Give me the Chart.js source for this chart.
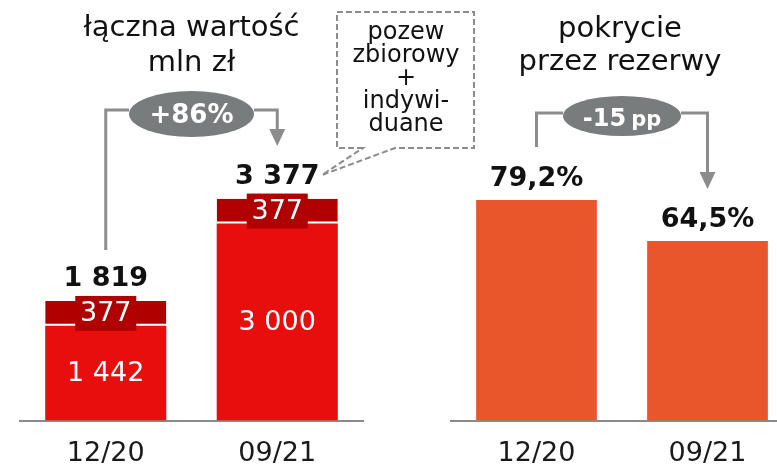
<!DOCTYPE html>
<html lang="pl">
  <head>
    <meta charset="UTF-8" />
    <title>łączna wartość i pokrycie przez rezerwy</title>
    <script src="https://cdn.jsdelivr.net/npm/chart.js@4"></script>
    <style>
      html, body { margin: 0; padding: 0; background: #fff; overflow: hidden; }
      body { width: 777px; height: 467px; position: relative; }
      canvas { position: absolute; top: 0; }
      #chartLeft { left: 0; }
      #chartRight { left: 431px; }
    </style>
  </head>
  <body>
    <canvas id="chartLeft" width="480" height="487"></canvas>
    <canvas id="chartRight" width="382" height="487"></canvas>
    <script>
      // dane
      const categories = ["12/20", "09/21"];
      const baseValues = [1442, 3000];
      const topValues = [377, 377];
      const coverage = [79.2, 64.5];
      const changeLeft = "+86%";
      const changeRight = ["-15", "pp"];

      const red = "#e80e0e";
      const darkRed = "#b00000";
      const orange = "#e9562c";
      const lineGrey = "#8c8c8c";
      const pillGrey = "#787c7c";
      const FONT = '"DejaVu Sans"';

      function fmt(n) {
        return n.toString().replace(/\B(?=(\d{3})+(?!\d))/g, " ");
      }
      function pct(n) {
        return n.toFixed(1).replace(".", ",") + "%";
      }

      function bracket(ctx, x1, x2, cx, lineY, pillY, rx, ry, yLeftEnd, yArrow) {
        ctx.strokeStyle = lineGrey;
        ctx.lineWidth = 3;
        ctx.beginPath();
        ctx.moveTo(x1, yLeftEnd);
        ctx.lineTo(x1, lineY);
        ctx.lineTo(cx - rx, lineY);
        ctx.moveTo(cx + rx, lineY);
        ctx.lineTo(x2, lineY);
        ctx.lineTo(x2, yArrow - 16);
        ctx.stroke();
        ctx.fillStyle = lineGrey;
        ctx.beginPath();
        ctx.moveTo(x2 - 8, yArrow - 17);
        ctx.lineTo(x2 + 8, yArrow - 17);
        ctx.lineTo(x2, yArrow);
        ctx.closePath();
        ctx.fill();
        ctx.fillStyle = pillGrey;
        ctx.beginPath();
        ctx.ellipse(cx, pillY, rx, ry, 0, 0, Math.PI * 2);
        ctx.fill();
      }

      const leftNotes = {
        id: "leftNotes",
        afterDraw(chart) {
          const ctx = chart.ctx;
          const area = chart.chartArea;
          const cx = (area.left + area.right) / 2;
          const base = chart.getDatasetMeta(0).data;
          const top = chart.getDatasetMeta(1).data;
          ctx.save();
          ctx.textAlign = "center";

          ctx.fillStyle = "#111";
          ctx.font = "29px " + FONT;
          ctx.fillText("łączna wartość", cx, 36);
          ctx.fillText("mln zł", cx, 71);

          base.forEach((b, i) => {
            ctx.fillStyle = "#fff";
            ctx.font = "27px " + FONT;
            ctx.textBaseline = "middle";
            ctx.fillText(fmt(baseValues[i]), b.x, (b.y + b.base) / 2 + 1);
          });

          top.forEach((b, i) => {
            const my = (b.y + b.base) / 2;
            ctx.fillStyle = darkRed;
            ctx.fillRect(b.x - 30.5, my - 17.5, 61, 35);
            ctx.fillStyle = "#fff";
            ctx.font = "27px " + FONT;
            ctx.textBaseline = "middle";
            ctx.fillText(fmt(topValues[i]), b.x, my + 1);
            ctx.fillStyle = "#111";
            ctx.font = "bold 27px " + FONT;
            ctx.textBaseline = "alphabetic";
            ctx.fillText(fmt(baseValues[i] + topValues[i]), b.x, b.y - 15);
          });

          bracket(ctx, top[0].x, top[1].x, cx, 110, 114, 62.5, 23, 250, 146);
          ctx.fillStyle = "#fff";
          ctx.font = "bold 26px " + FONT;
          ctx.fillText(changeLeft, cx, 123);

          // dymek
          ctx.setLineDash([6, 3]);
          ctx.strokeStyle = lineGrey;
          ctx.lineWidth = 2;
          ctx.fillStyle = "#fff";
          ctx.beginPath();
          ctx.moveTo(363, 148);
          ctx.lineTo(337, 148);
          ctx.lineTo(337, 12);
          ctx.lineTo(474, 12);
          ctx.lineTo(474, 148);
          ctx.lineTo(395, 148);
          ctx.lineTo(322, 175);
          ctx.closePath();
          ctx.fill();
          ctx.stroke();
          ctx.setLineDash([]);
          ctx.fillStyle = "#111";
          ctx.font = "24px " + FONT;
          const lines = ["pozew", "zbiorowy", "+", "indywi-", "duane"];
          lines.forEach((t, k) => ctx.fillText(t, 406, 39 + k * 23));
          ctx.restore();
        },
      };

      const rightNotes = {
        id: "rightNotes",
        afterDraw(chart) {
          const ctx = chart.ctx;
          const area = chart.chartArea;
          const cx = (area.left + area.right) / 2;
          const bars = chart.getDatasetMeta(0).data;
          ctx.save();
          ctx.textAlign = "center";
          ctx.fillStyle = "#111";
          ctx.font = "29px " + FONT;
          ctx.fillText("pokrycie", cx - 2, 37);
          ctx.fillText("przez rezerwy", cx - 2, 70);

          ctx.font = "bold 27px " + FONT;
          bars.forEach((b, i) => ctx.fillText(pct(coverage[i]), b.x, b.y - 14));

          bracket(ctx, bars[0].x, bars[1].x, cx, 113, 116, 59, 20, 147, 189);
          ctx.fillStyle = "#fff";
          ctx.textAlign = "left";
          ctx.font = "bold 24px " + FONT;
          const w1 = ctx.measureText(changeRight[0]).width;
          ctx.font = "bold 21px " + FONT;
          const w2 = ctx.measureText(changeRight[1]).width;
          const x0 = cx - (w1 + 5 + w2) / 2;
          ctx.font = "bold 24px " + FONT;
          ctx.fillText(changeRight[0], x0, 126);
          ctx.font = "bold 21px " + FONT;
          ctx.fillText(changeRight[1], x0 + w1 + 5, 126);
          ctx.restore();
        },
      };

      const xAxis = {
        grid: { display: false, drawTicks: false },
        border: { display: true, color: "#8a8a8a", width: 2 },
        ticks: { color: "#1a1a1a", font: { family: "DejaVu Sans", size: 27 }, padding: 17 },
      };

      new Chart(document.getElementById("chartLeft"), {
        type: "bar",
        data: {
          labels: categories,
          datasets: [
            { data: baseValues, backgroundColor: red },
            {
              data: topValues,
              backgroundColor: darkRed,
              borderColor: "#fff",
              borderWidth: { bottom: 2, top: 0, left: 0, right: 0 },
              borderSkipped: false,
            },
          ],
        },
        options: {
          responsive: false,
          animation: false,
          layout: { padding: { left: 20, right: 117, top: 0, bottom: 0 } },
          datasets: { bar: { categoryPercentage: 1, barPercentage: 0.706 } },
          plugins: { legend: { display: false }, tooltip: { enabled: false } },
          scales: {
            x: { ...xAxis, stacked: true },
            y: { display: false, stacked: true, min: 0, max: 6400 },
          },
        },
        plugins: [leftNotes],
      });

      new Chart(document.getElementById("chartRight"), {
        type: "bar",
        data: {
          labels: categories,
          datasets: [{ data: coverage, backgroundColor: orange }],
        },
        options: {
          responsive: false,
          animation: false,
          layout: { padding: { left: 20, right: 20, top: 0, bottom: 0 } },
          datasets: { bar: { categoryPercentage: 1, barPercentage: 0.706 } },
          plugins: { legend: { display: false }, tooltip: { enabled: false } },
          scales: {
            x: xAxis,
            y: { display: false, min: 0, max: 151 },
          },
        },
        plugins: [rightNotes],
      });
    </script>
  </body>
</html>
